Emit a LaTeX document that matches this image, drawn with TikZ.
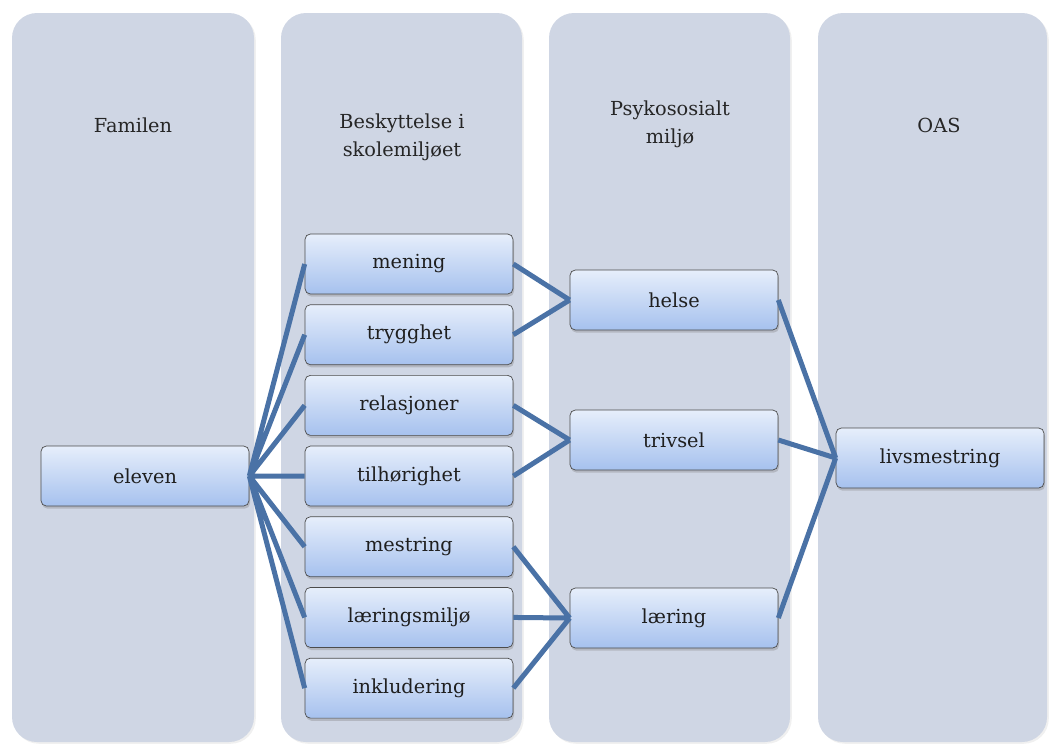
\documentclass[tikz,border=0pt]{standalone}
\usepackage{fontspec}
\setmainfont{DejaVu Serif}
\usepackage{tikz}
\usetikzlibrary{positioning,shadows}
\definecolor{panelgrey}{HTML}{CFD6E4}
\definecolor{linkblue}{HTML}{4A72A6}
\definecolor{boxtop}{HTML}{E6EEFB}
\definecolor{boxbot}{HTML}{A6C1EE}
\tikzset{
  panel/.style={fill=panelgrey, rounded corners=0.5cm, drop shadow={opacity=0.12, shadow xshift=1pt, shadow yshift=-1pt}},
  heading/.style={align=center, font=\fontsize{11}{16}\selectfont, text=black!85},
  stepbox/.style={draw=black!70, rounded corners=3pt, top color=boxtop, bottom color=boxbot,
    minimum width=4.16cm, minimum height=1.2cm, font=\fontsize{11}{16}\selectfont, text=black!88,
    drop shadow={opacity=0.35, shadow xshift=0.6pt, shadow yshift=-1.5pt}},
  link/.style={line width=1mm, draw=linkblue}
}

\begin{document}
\begin{tikzpicture}[x=0.02cm, y=-0.02cm, node distance=0.2cm]
\useasboundingbox (0,0) rectangle (1050,747);
% columns
\fill[panel] (12,13) rectangle (254,742);
\fill[panel] (281,13) rectangle (522,742);
\fill[panel] (549,13) rectangle (790,742);
\fill[panel] (818,13) rectangle (1047,742);
\node[heading] (famhead) at (133,125) {Familen};
\node[heading] (beskhead) at (402,137) {Beskyttelse i\\skolemiljøet};
\node[heading] (psyhead) at (670,124) {Psykososialt\\miljø};
\node[heading] (oashead) at (939,125) {OAS};
% boxes
\node[stepbox] (eleven) at (145,476) {eleven};
\node[stepbox] (mening) at (409,264) {mening};
\node[stepbox, below=of mening] (trygghet) {trygghet};
\node[stepbox, below=of trygghet] (relasjoner) {relasjoner};
\node[stepbox, below=of relasjoner] (tilhorighet) {tilhørighet};
\node[stepbox, below=of tilhorighet] (mestring) {mestring};
\node[stepbox, below=of mestring] (laeringsmiljo) {læringsmiljø};
\node[stepbox, below=of laeringsmiljo] (inkludering) {inkludering};
\node[stepbox] (helse) at (674,300) {helse};
\node[stepbox] (trivsel) at (674,440) {trivsel};
\node[stepbox] (laering) at (674,618) {læring};
\node[stepbox] (livsmestring) at (940,458) {livsmestring};
% links
\draw[link] (eleven.east) -- (mening.west) (eleven.east) -- (trygghet.west)
  (eleven.east) -- (relasjoner.west) (eleven.east) -- (tilhorighet.west)
  (eleven.east) -- (mestring.west) (eleven.east) -- (laeringsmiljo.west)
  (eleven.east) -- (inkludering.west);
\draw[link] (mening.east) -- (helse.west) (trygghet.east) -- (helse.west);
\draw[link] (relasjoner.east) -- (trivsel.west) (tilhorighet.east) -- (trivsel.west);
\draw[link] (mestring.east) -- (laering.west) (laeringsmiljo.east) -- (laering.west)
  (inkludering.east) -- (laering.west);
\draw[link] (helse.east) -- (livsmestring.west) (trivsel.east) -- (livsmestring.west)
  (laering.east) -- (livsmestring.west);
\end{tikzpicture}
\end{document}
